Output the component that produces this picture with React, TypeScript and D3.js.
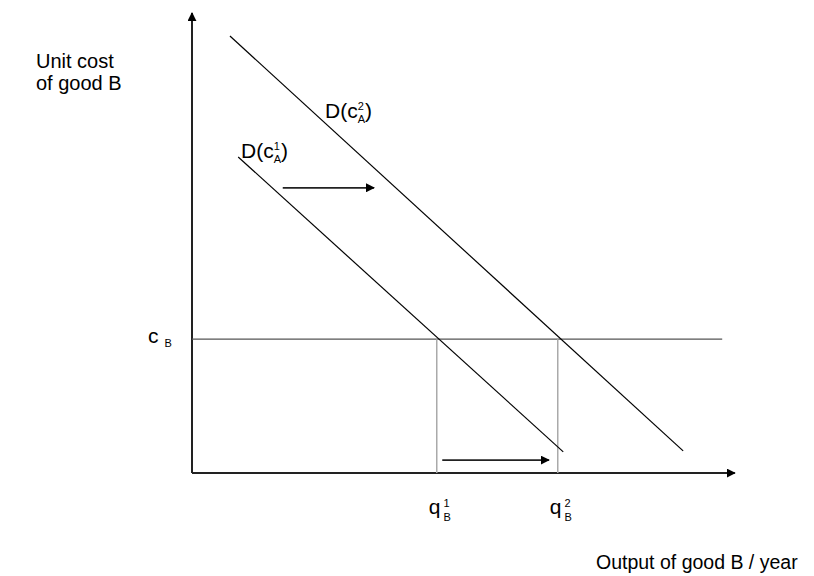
import React from "react";
import * as d3 from "d3";

// Abstract economic units (0..100 on both axes)
const axisMax = { x: 98.7, y: 100 };
const costLevel = 29.1; // c_B
const costLineEnd = 96.4;
const demandCurves = [
  { name: "D1", x0: 8.4, y0: 68.7, x1: 67.5, y1: 4.6 },
  { name: "D2", x0: 6.9, y0: 95.0, x1: 89.3, y1: 4.8 },
];
const quantities = [44.5, 66.5]; // q1_B, q2_B
const shiftArrows = [
  { x0: 16.5, x1: 33.1, y: 62.0 },
  { x0: 45.5, x1: 64.9, y: 2.8 },
];

const W = 814;
const H = 576;
const FONT = "Arial, 'Liberation Sans', sans-serif";

export default function App() {
  const x = d3.scaleLinear().domain([0, 100]).range([192, 742]);
  const y = d3.scaleLinear().domain([0, 100]).range([473, 13]);
  const line = d3.line<[number, number]>().x((d) => x(d[0])).y((d) => y(d[1]));

  const fs = 20;
  const fsD = 21;
  const small = 11;

  return (
    <svg
      width={W}
      height={H}
      style={{ position: "absolute", left: 0, top: 0, background: "#fff" }}
      fontFamily={FONT}
    >
      <defs>
        <marker id="ah" viewBox="0 0 10 10" refX="9" refY="5" markerWidth="9" markerHeight="9" markerUnits="userSpaceOnUse" orient="auto">
          <path d="M0,0 L10,5 L0,10 z" fill="#000" />
        </marker>
        <marker id="ax" viewBox="0 0 10 10" refX="9" refY="5" markerWidth="9" markerHeight="9" markerUnits="userSpaceOnUse" orient="auto">
          <path d="M0,0 L10,5 L0,10 z" fill="#000" />
        </marker>
      </defs>

      {/* axes */}
      <path d={line([[0, 0], [0, axisMax.y]]) || ""} stroke="#222" strokeWidth={2} fill="none" markerEnd="url(#ax)" />
      <path d={line([[0, 0], [axisMax.x, 0]]) || ""} stroke="#222" strokeWidth={2} fill="none" markerEnd="url(#ax)" />

      {/* cost line */}
      <path d={line([[0, costLevel], [costLineEnd, costLevel]]) || ""} stroke="#555" strokeWidth={1.2} fill="none" />

      {/* quantity drop lines */}
      {quantities.map((q, i) => (
        <path key={i} d={line([[q, 0], [q, costLevel]]) || ""} stroke="#aaa" strokeWidth={1.5} fill="none" />
      ))}

      {/* demand curves */}
      {demandCurves.map((c) => (
        <path key={c.name} d={line([[c.x0, c.y0], [c.x1, c.y1]]) || ""} stroke="#000" strokeWidth={1.2} fill="none" />
      ))}

      {/* shift arrows */}
      {shiftArrows.map((a, i) => (
        <path key={i} d={line([[a.x0, a.y], [a.x1, a.y]]) || ""} stroke="#222" strokeWidth={1.8} fill="none" markerEnd="url(#ah)" />
      ))}

      {/* labels */}
      <text x={36} y={68} fontSize={fs}>Unit cost</text>
      <text x={36} y={90} fontSize={fs}>of good B</text>

      <text x={325} y={118} fontSize={fsD}>
        D(c
        <tspan fontSize={small} dy={-8}>2</tspan>
        <tspan fontSize={small} dx={-6.1} dy={13}>A</tspan>
        <tspan fontSize={fsD} dy={-5}>)</tspan>
      </text>
      <text x={241} y={158} fontSize={fsD}>
        D(c
        <tspan fontSize={small} dy={-8}>1</tspan>
        <tspan fontSize={small} dx={-6.1} dy={13}>A</tspan>
        <tspan fontSize={fsD} dy={-5}>)</tspan>
      </text>

      <text x={148} y={343} fontSize={fsD}>
        c
        <tspan fontSize={small} dx={6} dy={4}>B</tspan>
      </text>

      {quantities.map((q, i) => (
        <text key={i} x={x(q) - 8} y={514} fontSize={fsD}>
          q
          <tspan fontSize={small} dx={3} dy={-7}>{i + 1}</tspan>
          <tspan fontSize={small} dx={-6.1} dy={14}>B</tspan>
        </text>
      ))}

      <text x={596} y={569} fontSize={19.5}>Output of good B / year</text>
    </svg>
  );
}
